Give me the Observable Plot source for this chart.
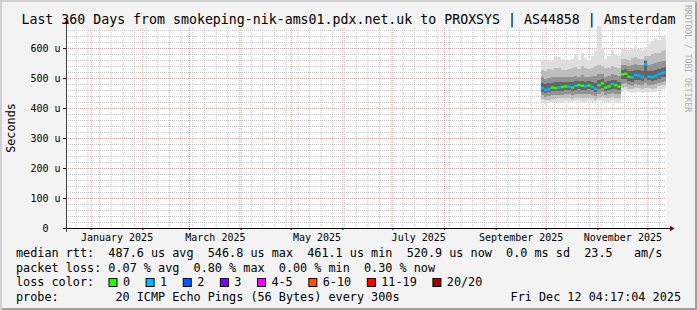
<!DOCTYPE html>
<html><head><meta charset="utf-8">
<script src="https://cdn.jsdelivr.net/npm/d3@7"></script>
<script src="https://cdn.jsdelivr.net/npm/@observablehq/plot@0.6"></script>
<style>
html,body{margin:0;padding:0;background:#f3f3f3;}
#wrap{position:relative;width:697px;height:310px;overflow:hidden;background:#f3f3f3;box-shadow:inset 2px 2px 0 #d0d0d0, inset -2px -2px 0 #a0a0a0;}
#wrap svg{position:absolute;left:0;top:0;}
</style></head><body><div id="wrap"></div>
<script>
// ---------- data ----------
const titleText = "Last 360 Days from smokeping-nik-ams01.pdx.net.uk to PROXSYS | AS44858 | Amsterdam";
const yLabel = "Seconds";
const sideText = "RRDTOOL / TOBI OETIKER";
const rangeStart = "2024-12-17T04:17:04Z";
const rangeEnd = "2025-12-12T04:17:04Z";
const yMax = 667; // microseconds
const yTicks = [0, 100, 200, 300, 400, 500, 600];
const labelMonths = ["2025-01-01", "2025-03-01", "2025-05-01", "2025-07-01", "2025-09-01", "2025-11-01"];

const dates = ["2025-09-28","2025-09-30","2025-10-02","2025-10-04","2025-10-06","2025-10-08","2025-10-10","2025-10-12","2025-10-14","2025-10-16","2025-10-18","2025-10-20","2025-10-22","2025-10-24","2025-10-26","2025-10-28","2025-10-30","2025-11-01","2025-11-03","2025-11-05","2025-11-07","2025-11-09","2025-11-11","2025-11-13","2025-11-15","2025-11-17","2025-11-19","2025-11-21","2025-11-23","2025-11-25","2025-11-27","2025-11-29","2025-12-01","2025-12-03","2025-12-05","2025-12-07","2025-12-09","2025-12-11"];
const median = [468,462,465,470,468,470,472,474,473,470,476,478,476,474,477,472,466,478,484,470,474,482,478,473, 514,516,506,504,512,510,505,548,506,505,508,515,519,521];
const loss   = [1,1,1,0,0,1,0,0,1,0,1,0,0,1,0,1,1,0,0,0,0,1,0,0, 0,0,0,1,1,1,1,1,1,1,1,1,1,1];
const hi4 = [557,556,560,558,575,570,562,556,560,565,580,560,585,566,560,575,590,675,600,565,572,590,578,572, 598,596,594,600,604,598,595,605,612,625,632,628,640,642];
const hi3 = [528,525,530,528,535,532,528,526,530,532,538,530,540,532,530,535,540,545,540,532,535,540,536,534, 565,562,560,566,570,565,562,572,575,580,585,582,590,592];
const hi2 = [502,498,500,502,505,504,503,502,504,503,508,505,510,505,504,506,506,512,514,505,508,512,510,506, 545,544,540,542,546,545,542,560,544,546,550,552,556,558];
const hi1 = [484,480,482,485,486,486,487,488,487,486,490,490,490,488,490,487,484,492,496,486,490,495,492,488, 528,530,522,522,528,526,522,556,524,524,526,530,534,536];
const lo1 = [455,450,452,456,456,457,458,460,459,457,461,462,461,460,462,459,454,462,466,458,461,464,462,460, 496,498,490,488,495,494,490,500,492,491,494,498,502,504];
const lo2 = [442,438,440,443,443,444,445,447,446,444,447,448,447,446,448,445,441,448,452,445,447,450,448,446, 480,482,476,474,480,478,476,482,478,477,480,484,488,490];
const lo3 = [430,426,428,431,431,432,432,434,433,431,434,435,434,433,435,432,428,435,438,432,434,436,434,432, 468,470,464,462,467,466,463,468,466,465,468,472,476,478];
const lo4 = [418,414,416,419,419,420,420,422,421,419,422,422,421,420,422,419,416,422,425,420,421,423,421,419, 455,457,452,450,455,454,451,455,453,452,455,459,462,464];

const lossLabels = ["0", "1", "2", "3", "4-5", "6-10", "11-19", "20/20"];
const lossColors = ["#26ff00", "#00b8ff", "#0059ff", "#7e00ff", "#ff00ff", "#ff5500", "#ff0000", "#a10000"];
const legendLines = [
  "median rtt:  487.6 us avg  546.8 us max  461.1 us min  520.9 us now  0.0 ms sd  23.5   am/s",
  "packet loss: 0.07 % avg  0.80 % max  0.00 % min  0.30 % now",
  "loss color:",
  "probe:        20 ICMP Echo Pings (56 Bytes) every 300s"
];
const stampText = "Fri Dec 12 04:17:04 2025";

// ---------- build ----------
const start = new Date(rangeStart), end = new Date(rangeEnd);
const msPerPx = (end - start) / 600, uPerPx = yMax / 200;
const rows = dates.map((d, i) => ({
  date: new Date(d + "T00:00:00Z"),
  next: i + 1 < dates.length ? new Date(dates[i + 1] + "T00:00:00Z") : end,
  median: median[i], loss: loss[i],
  hi4: hi4[i], hi3: hi3[i], hi2: hi2[i], hi1: hi1[i],
  lo1: lo1[i], lo2: lo2[i], lo3: lo3[i], lo4: lo4[i]
}));
const months = d3.utcMonth.range(d3.utcMonth.ceil(start), end);
const weeks = d3.utcMonday.range(start, end).filter(w => w.getUTCDate() !== 1);
const yMinor = d3.range(20, yMax, 20).filter(v => v % 100 !== 0);
const yMajor = yTicks.filter(v => v > 0);
const labelDates = labelMonths.map(m => {
  const a = new Date(m + "T00:00:00Z"), b = d3.utcMonth.offset(a, 1);
  return new Date((+a + +b) / 2);
});
const shades = ["#dedede", "#bdbdbd", "#939393", "#656565"];
const bands = [["lo4","hi4"],["lo3","hi3"],["lo2","hi2"],["lo1","hi1"]];
const FONT = "DejaVu Sans Mono";

const chart = Plot.plot({
  width: 697, height: 310,
  marginLeft: 66, marginRight: 31, marginTop: 28, marginBottom: 82,
  style: {background: "transparent", fontFamily: FONT, fontSize: "10px", color: "#000", overflow: "visible"},
  x: {type: "utc", domain: [start, end]},
  y: {domain: [0, yMax]},
  marks: [
    Plot.frame({fill: "#ffffff", stroke: null}),
    Plot.ruleY(yMinor, {stroke: "#c4c4c4", strokeDasharray: "1,1"}),
    Plot.ruleX(weeks, {stroke: "#c4c4c4", strokeDasharray: "1,1"}),
    Plot.ruleY(yMajor, {stroke: "#f29a9a", strokeDasharray: "1,1"}),
    Plot.ruleX(months, {stroke: "#f29a9a", strokeDasharray: "1,1"}),
    ...bands.map(([lo, hi], k) => Plot.rect(rows, {x1: "date", x2: "next", y1: lo, y2: hi, fill: shades[k], shapeRendering: "crispEdges"})),
    Plot.ruleY(rows, {y: "median", x1: "date", x2: "next", stroke: d => lossColors[d.loss], strokeWidth: 2.5}),
    Plot.axisX(labelDates, {tickSize: 0, tickPadding: 5.5, tickFormat: d3.utcFormat("%B %Y"), fontSize: 10, fontFamily: FONT, fill: "#000", label: null}),
    Plot.axisX(months, {tickSize: 2, tickFormat: () => "", stroke: "#000", label: null}),
    Plot.axisY(yTicks, {tickSize: 3, tickPadding: 3, tickFormat: v => v === 0 ? "0\u00a0\u00a0" : v + " u", fontSize: 10, fontFamily: FONT, fill: "#000", stroke: "#000", label: null}),
    Plot.ruleY([0], {x1: () => new Date(+start - 3 * msPerPx), x2: () => new Date(+end + 4 * msPerPx), stroke: "#000"}),
    Plot.ruleX([start], {y1: -4 * uPerPx, y2: yMax + 5 * uPerPx, stroke: "#404040"}),
    Plot.dot([0], {x: () => new Date(+end + 5 * msPerPx), y: 0, symbol: "triangle", rotate: 90, r: 2, fill: "#800000", stroke: null}),
    Plot.dot([0], {x: () => start, y: yMax + 6 * uPerPx, symbol: "triangle", r: 2, fill: "#800000", stroke: null})
  ]
});
const wrap = document.getElementById("wrap");
wrap.appendChild(chart);

// ---------- text overlay ----------
const svg = d3.create("svg").attr("width", 697).attr("height", 310)
  .style("font-family", FONT).style("white-space", "pre");
svg.append("text").attr("x", 348.5).attr("y", 24).attr("text-anchor", "middle")
  .attr("font-size", 13.25).attr("fill", "#000").text(titleText);
svg.append("text").attr("transform", "translate(15,128) rotate(-90)").attr("text-anchor", "middle")
  .attr("font-size", 11.8).attr("fill", "#000").text(yLabel);
svg.append("text").attr("transform", "translate(685,5) rotate(90)").attr("text-anchor", "start")
  .attr("font-size", 8.1).attr("fill", "#acacac").text(sideText);
const baselines = [257, 271.5, 286, 300.5];
legendLines.forEach((t, i) => svg.append("text").attr("x", 16).attr("y", baselines[i])
  .attr("font-size", 11.8).attr("fill", "#000").attr("xml:space", "preserve").text(t));
svg.append("text").attr("x", 681).attr("y", baselines[3]).attr("text-anchor", "end")
  .attr("font-size", 11.8).attr("fill", "#000").text(stampText);
let bx = 108.5;
lossLabels.forEach((lab, i) => {
  svg.append("rect").attr("x", bx + 0.5).attr("y", 278.5).attr("width", 8).attr("height", 8)
    .attr("fill", lossColors[i]).attr("stroke", "#000").attr("stroke-width", 1);
  svg.append("text").attr("x", bx + 14.4).attr("y", baselines[2]).attr("font-size", 11.8)
    .attr("fill", "#000").text(lab);
  bx += 30 + lab.length * 7.12;
});
wrap.appendChild(svg.node());
</script></body></html>
